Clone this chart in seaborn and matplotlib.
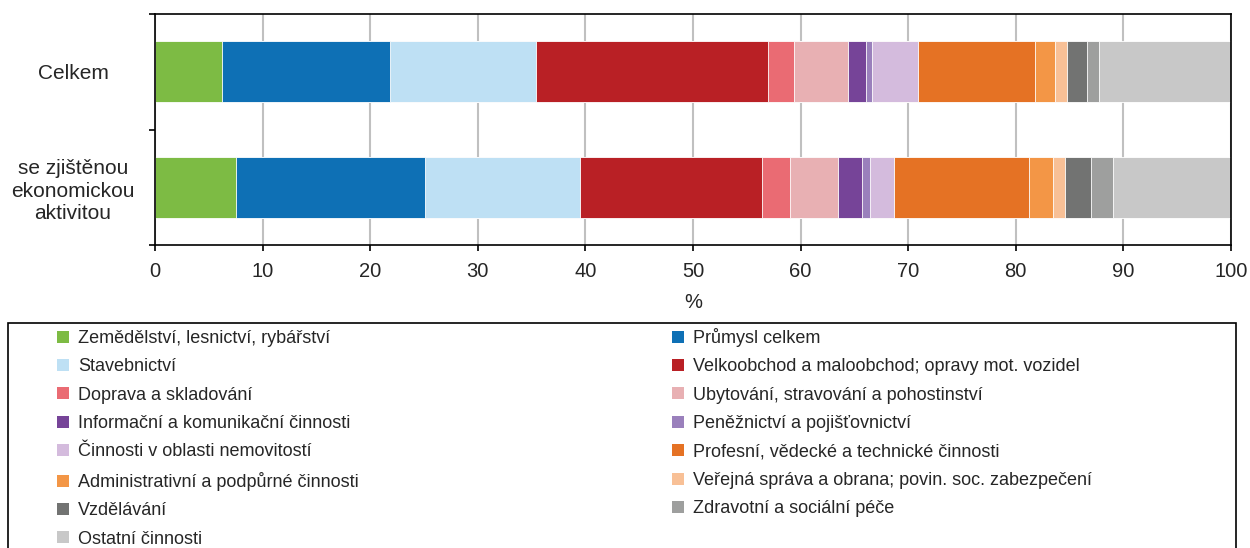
import numpy as np
import pandas as pd
import matplotlib.pyplot as plt
import seaborn as sns
from matplotlib.patches import Patch, Rectangle

# =============================================================================
# Data (shares in %)
# =============================================================================
categories = ['Celkem', 'se zjištěnou\nekonomickou\naktivitou']

sectors = ['Zemědělství, lesnictví, rybářství',
           'Průmysl celkem',
           'Stavebnictví',
           'Velkoobchod a maloobchod; opravy mot. vozidel',
           'Doprava a skladování',
           'Ubytování, stravování a pohostinství',
           'Informační a komunikační činnosti',
           'Peněžnictví a pojišťovnictví',
           'Činnosti v oblasti nemovitostí',
           'Profesní, vědecké a technické činnosti',
           'Administrativní a podpůrné činnosti',
           'Veřejná správa a obrana; povin. soc. zabezpečení',
           'Vzdělávání',
           'Zdravotní a sociální péče',
           'Ostatní činnosti']

celkem = [6.25, 15.55, 13.6, 21.6, 2.4, 5.0, 1.7, 0.55, 4.3, 10.8, 1.85, 1.15, 1.85, 1.1, 12.3]
zjistenou = [7.55, 17.55, 14.4, 16.95, 2.6, 4.45, 2.25, 0.7, 2.25, 12.5, 2.25, 1.1, 2.45, 2.0, 11.0]

colors = ['#7DBB44', '#0E70B5', '#BEE0F4', '#B92025', '#EA6B73',
          '#E8B0B3', '#764498', '#9A80BC', '#D4BBDD', '#E57224',
          '#F39646', '#F8C096', '#727372', '#9E9F9E', '#C8C8C8']

df = pd.DataFrame({'sector': sectors, 'Celkem': celkem, 'zjistenou': zjistenou})
df['cum_celkem'] = df['Celkem'].cumsum()
df['cum_zjistenou'] = df['zjistenou'].cumsum()

# =============================================================================
# Plot
# =============================================================================
sns.set_theme(style='white')
plt.rcParams['font.family'] = ['Liberation Sans', 'DejaVu Sans']
text_col = '#262626'

fig = plt.figure(figsize=(12.5, 5.48), dpi=100)
ax = fig.add_axes([155/1250, 1 - 245/548, 1076/1250, 231/548])

# stacked bars: draw cumulative totals from the longest to the shortest
for i in reversed(range(len(sectors))):
    sns.barplot(x=[df['cum_celkem'][i], df['cum_zjistenou'][i]], y=categories,
                color=colors[i], saturation=1, width=0.53, orient='h',
                errorbar=None, edgecolor='white', linewidth=0.6, ax=ax)

ax.set_xlim(0, 100)
ax.set_ylim(1.5, -0.5)
ax.set_xticks(np.arange(0, 101, 10))
ax.set_xlabel('%', fontsize=14.5, color=text_col, labelpad=9)
ax.set_ylabel('')
ax.grid(axis='x', color='#C0C0C0', lw=1.5)
ax.grid(axis='y', visible=False)
ax.set_axisbelow(True)
for s in ax.spines.values():
    s.set_color('black')
    s.set_linewidth(1.2)

ax.set_yticks([-0.5, 0.5, 1.5])
ax.set_yticklabels(['', '', ''])
ax.set_yticks([0, 1], minor=True)
ax.set_yticklabels(categories, minor=True, fontsize=15, color=text_col,
                   ha='center', multialignment='center', linespacing=1.25)
ax.tick_params(axis='y', which='major', left=True, length=4, width=1.2, color='black', direction='out')
ax.tick_params(axis='y', which='minor', left=True, length=0, pad=59)
ax.tick_params(axis='x', bottom=True, length=4, width=1.2, color='black', direction='out',
               labelsize=14.5, labelcolor=text_col, pad=8)

# legend in two columns, row order as in the source
handles = [Patch(facecolor=c, edgecolor='none') for c in colors]
leg_kw = dict(loc='upper left', frameon=False, fontsize=13, handlelength=0.65, handleheight=0.65,
              handletextpad=0.5, labelspacing=0.63, borderpad=0, borderaxespad=0,
              labelcolor=text_col)
leg1 = fig.legend(handles[0::2], sectors[0::2], bbox_to_anchor=(57/1250, 1 - 330/548), **leg_kw)
leg2 = fig.legend(handles[1::2], sectors[1::2], bbox_to_anchor=(672/1250, 1 - 328/548), **leg_kw)
fig.patches.append(Rectangle((8/1250, -0.2), 1228/1250, 0.2 + 1 - 323/548,
                             transform=fig.transFigure, fill=False,
                             edgecolor='black', lw=1.2))

fig.savefig('out.png', dpi=100)
